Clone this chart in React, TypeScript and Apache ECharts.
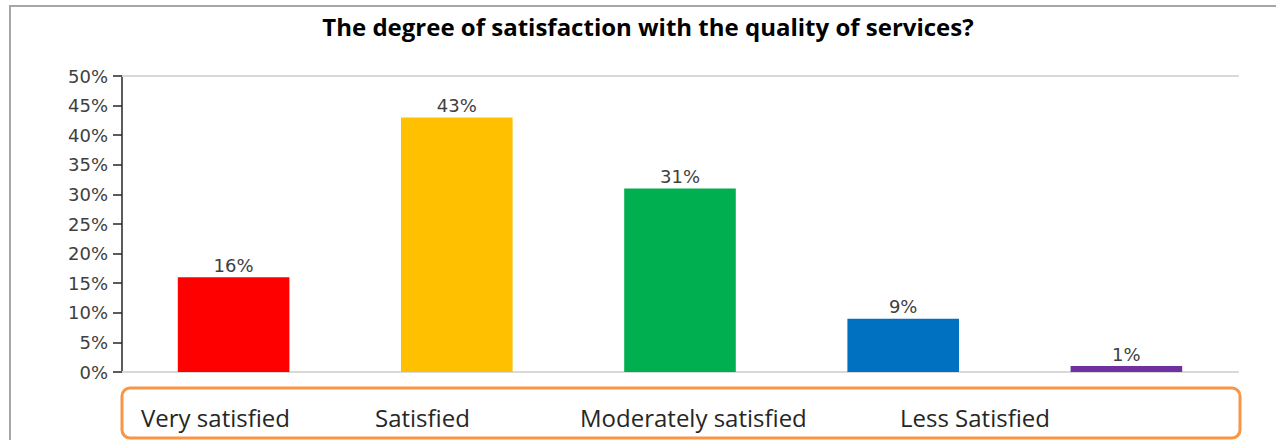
import React, { useEffect, useRef } from "react";
import * as echarts from "echarts";

const titleText = "The degree of satisfaction with the quality of services?";
const categories = ["Very satisfied", "Satisfied", "Moderately satisfied", "Less Satisfied", "Dissatisfied"];
const values = [16, 43, 31, 9, 1];
const barColors = ["#FF0000", "#FFC000", "#00B050", "#0070C0", "#7030A0"];
const legendNames = categories.slice(0, 4);
const legendLeft = [136, 370, 575, 895];
const yMin = 0;
const yMax = 50;
const yInterval = 5;

export default function App() {
  const ref = useRef<HTMLDivElement>(null);
  useEffect(() => {
    document.body.style.margin = "0";
    const chart = echarts.init(ref.current!, null, { renderer: "svg" });
    const labelFont = { fontFamily: "DejaVu Sans", fontSize: 18, color: "#404040" };
    chart.setOption({
      animation: false,
      backgroundColor: "#ffffff",
      title: {
        text: titleText,
        left: 643,
        top: 9,
        textAlign: "center",
        textStyle: { fontFamily: "Open Sans", fontWeight: "bold", fontSize: 24, color: "#000000" },
      },
      grid: { left: 122, right: 38, top: 76, bottom: 68 },
      xAxis: [
        {
          type: "category",
          data: categories,
          axisLine: { show: true, lineStyle: { color: "#d9d9d9", width: 2 } },
          axisTick: { show: false },
          axisLabel: { show: false },
        },
        {
          type: "category",
          position: "top",
          data: categories,
          axisLine: { show: true, lineStyle: { color: "#d9d9d9", width: 2 } },
          axisTick: { show: false },
          axisLabel: { show: false },
        },
      ],
      yAxis: {
        type: "value",
        min: yMin,
        max: yMax,
        interval: yInterval,
        axisLine: { show: true, lineStyle: { color: "#262626", width: 1.5 } },
        axisTick: { show: true, length: 9, lineStyle: { color: "#262626", width: 1.5 } },
        splitLine: { show: false },
        axisLabel: { ...labelFont, margin: 14, formatter: (v: number) => `${v}%` },
      },
      legend: legendNames.map((name, i) => ({
        data: [name],
        left: legendLeft[i],
        top: 403,
        padding: 0,
        icon: "none",
        itemWidth: 0,
        itemHeight: 0,
        selectedMode: false,
        textStyle: { fontFamily: "Open Sans", fontSize: 24, color: "#262626", lineHeight: 28 },
      })),
      graphic: [
        {
          type: "rect",
          shape: { x: 10, y: 6, width: 1300, height: 500 },
          style: { fill: "none", stroke: "#a6a6a6", lineWidth: 2 },
          silent: true,
          z: -1,
        },
        {
          type: "rect",
          shape: { x: 122, y: 388, width: 1118, height: 50, r: 8 },
          style: { fill: "none", stroke: "#F79646", lineWidth: 3 },
          silent: true,
        },
      ],
      series: categories.map((name, i) => ({
        name,
        type: "bar",
        stack: "all",
        barWidth: "50%",
        data: values.map((v, j) => (j === i ? v : "-")),
        itemStyle: { color: barColors[i] },
        label: { show: true, position: "top", distance: 3, formatter: "{c}%", ...labelFont },
      })),
    });
    return () => chart.dispose();
  }, []);
  return <div ref={ref} style={{ width: 1276, height: 440 }} />;
}
